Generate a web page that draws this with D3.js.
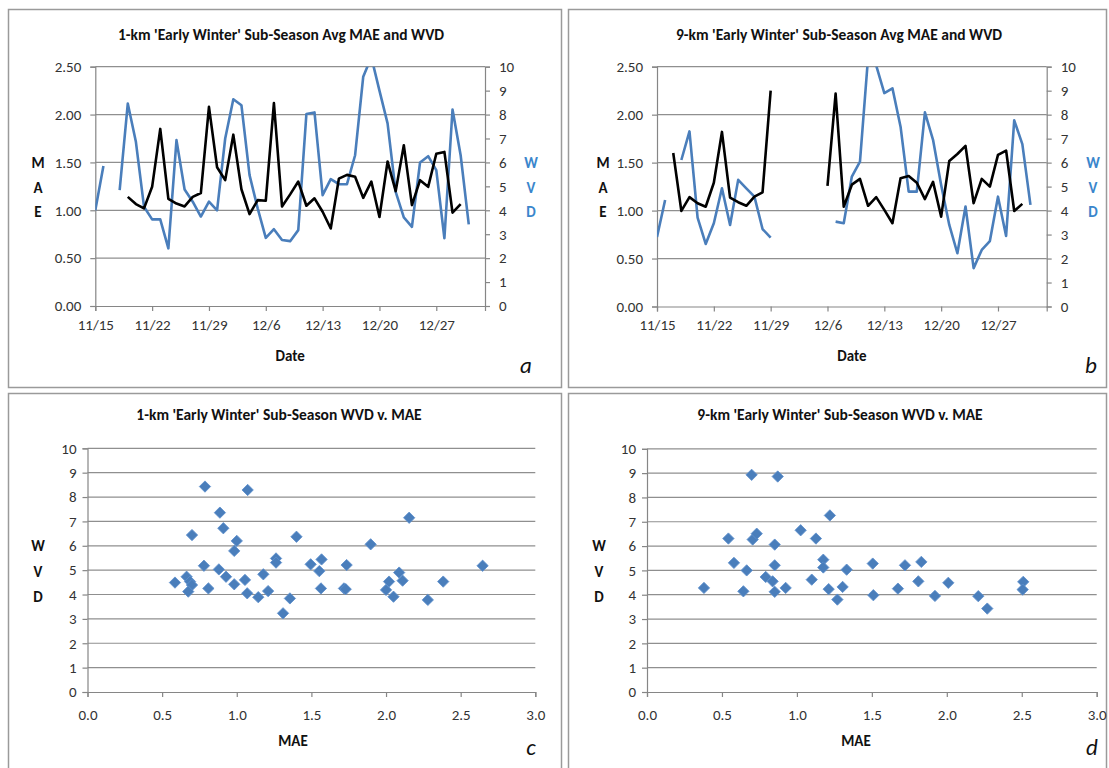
<!DOCTYPE html>
<html><head><meta charset="utf-8">
<script src="https://cdn.jsdelivr.net/npm/d3@7"></script>
<style>
body{margin:0;background:#fff}
svg{display:block}
text{font-family:Carlito,Lato,"Liberation Sans",sans-serif}
</style>
</head><body>
<svg id="chart" width="1109" height="768"></svg>
<script>
// ---------- DATA ----------
const dates = ["11/15","11/16","11/17","11/18","11/19","11/20","11/21","11/22","11/23","11/24","11/25","11/26","11/27","11/28","11/29","11/30",
  "12/1","12/2","12/3","12/4","12/5","12/6","12/7","12/8","12/9","12/10","12/11","12/12","12/13","12/14","12/15","12/16","12/17","12/18","12/19","12/20",
  "12/21","12/22","12/23","12/24","12/25","12/26","12/27","12/28","12/29","12/30","12/31"];
const dateTickLabels = ["11/15","11/22","11/29","12/6","12/13","12/20","12/27"];
const maeTicks = [0, 0.5, 1.0, 1.5, 2.0, 2.5];
const wvdTicks = [0,1,2,3,4,5,6,7,8,9,10];
const scatterXTicks = [0, 0.5, 1.0, 1.5, 2.0, 2.5, 3.0];

const mae1km = [null,null,null,null,1.14,1.065,1.02,1.245,1.85,1.12,1.07,1.04,1.14,1.18,2.08,1.45,1.315,1.79,1.22,0.96,1.106,1.10,2.12,1.04,1.166,1.30,
  1.047,1.125,0.985,0.81,1.33,1.37,1.35,1.13,1.30,0.93,1.51,1.20,1.68,1.054,1.315,1.245,1.59,1.61,0.975,1.065,null];
const wvd1km = [4.0,5.85,null,4.84,8.46,6.86,4.15,3.62,3.62,2.41,6.93,4.87,4.36,3.74,4.36,4.0,7.0,8.64,8.39,5.47,4.08,2.85,3.21,2.76,2.71,3.17,
  8.02,8.09,4.63,5.3,5.09,5.09,6.3,9.58,10.4,9.0,7.63,4.77,3.7,3.31,6.0,6.26,5.68,2.83,8.21,6.3,3.41];
const mae9km = [null,null,1.60,0.996,1.14,1.077,1.04,1.29,1.82,1.135,1.087,1.05,1.146,1.19,2.25,null,null,null,null,null,null,1.257,2.22,1.04,1.27,1.33,
  1.05,1.14,1.007,0.868,1.338,1.36,1.29,1.12,1.30,0.937,1.518,1.59,1.675,1.077,1.33,1.25,1.58,1.626,0.996,1.07,null];
const wvd9km = [2.9,4.44,null,6.11,7.3,3.71,2.61,3.47,4.93,3.4,5.28,4.93,4.58,3.23,2.87,null,null,null,null,null,null,null,3.54,3.47,5.42,6.04,
  10.4,10.05,8.9,9.1,7.5,4.79,4.79,8.1,6.95,5.07,3.4,2.22,4.17,1.6,2.36,2.73,4.58,2.94,7.76,6.77,4.24];

const scatter1kmMAE = [0.586,0.664,0.687,0.70,0.675,0.70,0.787,0.78,0.81,0.887,0.91,0.88,0.928,0.983,1.0,0.983,1.073,1.055,1.07,1.144,1.178,1.21,1.263,1.263,
  1.31,1.356,1.40,1.495,1.568,1.553,1.564,1.736,1.718,1.73,1.897,2.155,2.088,2.111,2.02,2.0,2.05,2.28,2.383,2.647];
const scatter1kmWVD = [4.49,4.73,4.53,4.39,4.12,6.44,8.43,5.18,4.25,7.36,6.72,5.03,4.73,4.42,6.2,5.79,8.29,4.6,4.05,3.89,4.83,4.14,5.48,5.31,
  3.23,3.84,6.37,5.24,5.44,4.96,4.25,5.21,4.25,4.22,6.06,7.15,4.9,4.57,4.53,4.19,3.91,3.78,4.53,5.18];
const scatter9kmMAE = [0.38,0.543,0.58,0.643,0.665,0.698,0.705,0.732,0.792,0.838,0.852,0.852,0.852,0.872,0.925,1.025,1.099,1.127,1.176,1.176,1.22,1.212,
  1.27,1.305,1.332,1.506,1.51,1.674,1.721,1.83,1.81,1.921,2.01,2.21,2.27,2.51,2.506];
const scatter9kmWVD = [4.28,6.31,5.31,4.14,5.0,8.93,6.27,6.51,4.73,4.55,5.21,6.06,4.12,8.86,4.28,6.65,4.62,6.31,5.44,5.12,7.26,4.23,
  3.8,4.32,5.03,5.28,3.98,4.25,5.21,5.35,4.55,3.95,4.49,3.94,3.43,4.53,4.21];

// ---------- LAYOUT ----------
const svg = d3.select("#chart");
const blue = "#4a7ebb";
const labelBlue = "#3a86cc";
const gridCol = "#8f8f8f";
const axisCol = "#868686";
const textCol = "#333";
const tickFont = "15px";
const titleFont = "15.5px";
const labFont = "15px";

const boxes = [
  {x:8.5, y:9.5, w:553, h:378},
  {x:568.5, y:9.5, w:538, h:378},
  {x:8.5, y:393.5, w:553, h:380},
  {x:568.5, y:393.5, w:538, h:380}
];
boxes.forEach(b => svg.append("rect").attr("x",b.x).attr("y",b.y).attr("width",b.w).attr("height",b.h)
  .attr("fill","none").attr("stroke","#9a9a9a").attr("stroke-width",1.5));

const parseMD = s => { const [m,d] = s.split("/").map(Number); return new Date(m >= 11 ? 2010 : 2011, m-1, d); };

function styleAxis(g){
  g.select(".domain").attr("stroke",axisCol).attr("stroke-width",1.2);
  g.selectAll(".tick line").attr("stroke",axisCol).attr("stroke-width",1.2);
  g.selectAll(".tick text").attr("fill",textCol).style("font-size",tickFont).style("font-family","Carlito,Lato,sans-serif");
}

function linePanel(p){
  const g = svg.append("g");
  const x = d3.scaleTime().domain([parseMD("11/15"), parseMD("1/2")]).range([p.l, p.r]);
  const yL = d3.scaleLinear().domain([0,2.5]).range([p.b, p.t]);
  const yR = d3.scaleLinear().domain([0,10]).range([p.b, p.t]);
  g.append("g").selectAll("line").data(maeTicks.filter(d=>d>0)).join("line")
    .attr("x1",p.l).attr("x2",p.r).attr("y1",d=>yL(d)).attr("y2",d=>yL(d))
    .attr("stroke",gridCol).attr("stroke-width",1.2);
  const ax = g.append("g").attr("transform",`translate(0,${p.b})`)
    .call(d3.axisBottom(x).tickValues(dateTickLabels.map(parseMD)).tickSize(5).tickPadding(8)
      .tickFormat((d,i)=>dateTickLabels[i]));
  styleAxis(ax);
  const ay = g.append("g").attr("transform",`translate(${p.l},0)`)
    .call(d3.axisLeft(yL).tickValues(maeTicks).tickSize(5).tickPadding(9).tickFormat(d3.format(".2f")));
  styleAxis(ay);
  const ar = g.append("g").attr("transform",`translate(${p.r},0)`)
    .call(d3.axisRight(yR).tickValues(wvdTicks).tickSize(5).tickPadding(9).tickFormat(d3.format("d")));
  styleAxis(ar);
  const cid = "clip"+p.id;
  svg.append("clipPath").attr("id",cid).append("rect").attr("x",p.l).attr("y",p.t).attr("width",p.r-p.l).attr("height",p.b-p.t);
  const pts = (vals)=> vals.map((v,i)=>({d:parseMD(dates[i]), v}));
  g.append("path").datum(pts(p.wvd)).attr("clip-path",`url(#${cid})`)
    .attr("fill","none").attr("stroke",blue).attr("stroke-width",2.6).attr("stroke-linejoin","round")
    .attr("d", d3.line().defined(d=>d.v!=null).x(d=>x(d.d)).y(d=>yR(d.v)));
  g.append("path").datum(pts(p.mae)).attr("clip-path",`url(#${cid})`)
    .attr("fill","none").attr("stroke","#000").attr("stroke-width",2.6).attr("stroke-linejoin","round")
    .attr("d", d3.line().defined(d=>d.v!=null).x(d=>x(d.d)).y(d=>yL(d.v)));
  g.append("text").attr("x",p.titleX).attr("y",40).attr("text-anchor","middle")
    .style("font-weight","bold").style("font-size",titleFont).attr("fill","#111").text(p.title);
  g.append("text").attr("x",(p.l+p.r)/2).attr("y",361).attr("text-anchor","middle")
    .style("font-weight","bold").style("font-size",labFont).attr("fill","#111").text("Date");
  ["M","A","E"].forEach((c,i)=> g.append("text").attr("x",p.leftLab).attr("y",168+i*24.5).attr("text-anchor","middle")
    .style("font-weight","bold").style("font-size",labFont).attr("fill","#111").text(c));
  ["W","V","D"].forEach((c,i)=> g.append("text").attr("x",p.rightLab).attr("y",168+i*24.5).attr("text-anchor","middle")
    .style("font-weight","bold").style("font-size",labFont).attr("fill",labelBlue).text(c));
  g.append("text").attr("x",p.letterX).attr("y",373).attr("text-anchor","middle")
    .style("font-style","italic").style("font-size","23px").attr("fill","#111").text(p.letter);
}

function scatterPanel(p){
  const g = svg.append("g");
  const x = d3.scaleLinear().domain([0,3]).range([p.l, p.r]);
  const y = d3.scaleLinear().domain([0,10]).range([p.b, p.t]);
  g.append("g").selectAll("line").data(wvdTicks.filter(d=>d>0)).join("line")
    .attr("x1",p.l).attr("x2",p.r).attr("y1",d=>y(d)).attr("y2",d=>y(d))
    .attr("stroke",gridCol).attr("stroke-width",1.2);
  const ax = g.append("g").attr("transform",`translate(0,${p.b})`)
    .call(d3.axisBottom(x).tickValues(scatterXTicks).tickSize(5).tickPadding(12).tickFormat(d3.format(".1f")));
  styleAxis(ax);
  const ay = g.append("g").attr("transform",`translate(${p.l},0)`)
    .call(d3.axisLeft(y).tickValues(wvdTicks).tickSize(5).tickPadding(6).tickFormat(d3.format("d")));
  styleAxis(ay);
  const sym = d3.symbol().type(d3.symbolSquare).size(64);
  g.append("g").selectAll("path").data(p.mae.map((m,i)=>({m, w:p.wvd[i]}))).join("path")
    .attr("d",sym).attr("transform",d=>`translate(${x(d.m)},${y(d.w)}) rotate(45)`)
    .attr("fill",blue).attr("stroke","#5d8fcc").attr("stroke-width",0.8);
  g.append("text").attr("x",p.titleX).attr("y",420).attr("text-anchor","middle")
    .style("font-weight","bold").style("font-size",titleFont).attr("fill","#111").text(p.title);
  g.append("text").attr("x",p.maeX).attr("y",746).attr("text-anchor","middle")
    .style("font-weight","bold").style("font-size",labFont).attr("fill","#111").text("MAE");
  ["W","V","D"].forEach((c,i)=> g.append("text").attr("x",p.leftLab).attr("y",551+i*25.5).attr("text-anchor","middle")
    .style("font-weight","bold").style("font-size",labFont).attr("fill","#111").text(c));
  g.append("text").attr("x",p.letterX).attr("y",755).attr("text-anchor","middle")
    .style("font-style","italic").style("font-size","23px").attr("fill","#111").text(p.letter);
}

linePanel({id:"a", l:95.3, r:485, t:66.7, b:306, mae:mae1km, wvd:wvd1km,
  title:"1-km 'Early Winter' Sub-Season Avg MAE and WVD", titleX:281, leftLab:38, rightLab:531, letter:"a", letterX:526});
linePanel({id:"b", l:657, r:1046.7, t:66.7, b:306.5, mae:mae9km, wvd:wvd9km,
  title:"9-km 'Early Winter' Sub-Season Avg MAE and WVD", titleX:839, leftLab:603, rightLab:1093, letter:"b", letterX:1091});
scatterPanel({l:87.5, r:535.3, t:448.3, b:692, mae:scatter1kmMAE, wvd:scatter1kmWVD,
  title:"1-km 'Early Winter' Sub-Season WVD v. MAE", titleX:279, maeX:293, leftLab:38, letter:"c", letterX:531});
scatterPanel({l:647, r:1096.7, t:448.8, b:692, mae:scatter9kmMAE, wvd:scatter9kmWVD,
  title:"9-km 'Early Winter' Sub-Season WVD v. MAE", titleX:840, maeX:856, leftLab:599, letter:"d", letterX:1092});
</script>
</body></html>
